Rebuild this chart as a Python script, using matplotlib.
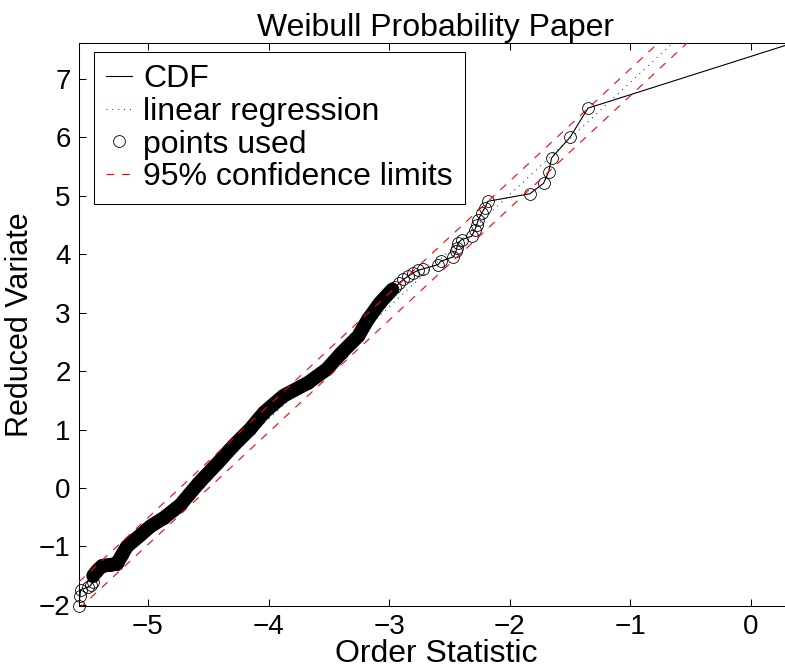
import matplotlib
matplotlib.use('Agg')
import matplotlib.pyplot as plt
import numpy as np

plt.rcParams['font.family'] = ['Liberation Sans', 'DejaVu Sans']

# order statistic (x) vs reduced variate (y), split into the sparse lower tail,
# the dense body of the sample and the sparse upper tail
low_x = [-5.572, -5.564, -5.558, -5.495, -5.475, -5.459]
low_y = [-2.02, -1.851, -1.738, -1.697, -1.669, -1.612]

body_x = [-5.454, -5.423, -5.381, -5.315, -5.257, -5.216, -5.174, -5.066, -4.980,
          -4.870, -4.731, -4.580, -4.417, -4.293, -4.154, -4.038, -3.878, -3.673,
          -3.518, -3.394, -3.256, -3.176, -3.076, -2.974]
body_y = [-1.50, -1.419, -1.333, -1.316, -1.299, -1.145, -1.00, -0.812, -0.657,
          -0.515, -0.288, 0.082, 0.437, 0.721, 1.006, 1.291, 1.575, 1.80,
          2.031, 2.316, 2.60, 2.885, 3.17, 3.397]

high_x = [-2.95, -2.92, -2.883, -2.842, -2.80, -2.759, -2.717, -2.593, -2.573,
          -2.468, -2.446, -2.440, -2.427, -2.399, -2.316, -2.289, -2.274, -2.261,
          -2.233, -2.206, -2.183, -1.833, -1.720, -1.678, -1.653, -1.501, -1.352]
high_y = [3.44, 3.50, 3.568, 3.624, 3.682, 3.727, 3.750, 3.824, 3.880,
          3.955, 4.05, 4.109, 4.194, 4.251, 4.307, 4.421, 4.507, 4.592,
          4.707, 4.792, 4.905, 5.036, 5.215, 5.41, 5.65, 6.00, 6.50]

# largest observation (not used in the fit)
max_x, max_y = 0.348, 7.615

# least squares fit and 95% band half-width (in reduced variate units)
fit_slope, fit_intercept = 1.92, 8.862
ci_half = 0.23

pts_x = np.array(low_x + body_x + high_x)
pts_y = np.array(low_y + body_y + high_y)
cdf_x = np.append(pts_x, max_x)
cdf_y = np.append(pts_y, max_y)

fig = plt.figure(figsize=(7.85, 6.72), dpi=100)
ax = fig.add_axes([0.1006, 0.0982, 0.9096, 0.8378])

# the dense part of the sample renders as a solid band of overlapping circles
ax.plot(body_x, body_y, '-', color='k', lw=10, solid_capstyle='round',
        solid_joinstyle='round', zorder=2)
ax.plot(cdf_x, cdf_y, '-', color='k', lw=0.8, label='CDF', zorder=3)

xx = np.array([cdf_x.min(), cdf_x.max()])
ax.plot(xx, fit_slope * xx + fit_intercept, color='#0000ff', lw=0.8,
        dashes=(0.8, 4.5), label='linear regression', zorder=1)
ax.plot(pts_x, pts_y, 'o', ms=8.5, mfc='none', mec='k', mew=0.6,
        label='points used', clip_on=False, zorder=3)
ax.plot(xx, fit_slope * xx + fit_intercept + ci_half, color='#ff0000', lw=0.8,
        dashes=(7, 7), label='95% confidence limits', zorder=5)
ax.plot(xx, fit_slope * xx + fit_intercept - ci_half, color='#ff0000', lw=0.8,
        dashes=(7, 7), zorder=5)

ax.set_xlim(cdf_x.min(), cdf_x.max())
ax.set_ylim(cdf_y.min(), cdf_y.max())
ax.set_xticks(np.arange(-5, 1))
ax.set_yticks(np.arange(-2, 8))
ax.tick_params(direction='in', length=5, width=0.75, top=True, right=True,
               labelsize=20, pad=6)
for s in ax.spines.values():
    s.set_linewidth(0.75)

ax.set_title('Weibull Probability Paper', fontsize=23, pad=5)
ax.set_xlabel('Order Statistic', fontsize=23, labelpad=-1)
ax.set_ylabel('Reduced Variate', fontsize=22, labelpad=3)

leg = ax.legend(loc='upper left', bbox_to_anchor=(0.0214, 0.9835), borderaxespad=0,
                fontsize=23, numpoints=1, handlelength=0.8, handletextpad=0.35,
                borderpad=0.38, labelspacing=0.08, fancybox=False, framealpha=1,
                edgecolor='k')
leg.get_frame().set_linewidth(0.75)

fig.savefig('out.png', dpi=100)
